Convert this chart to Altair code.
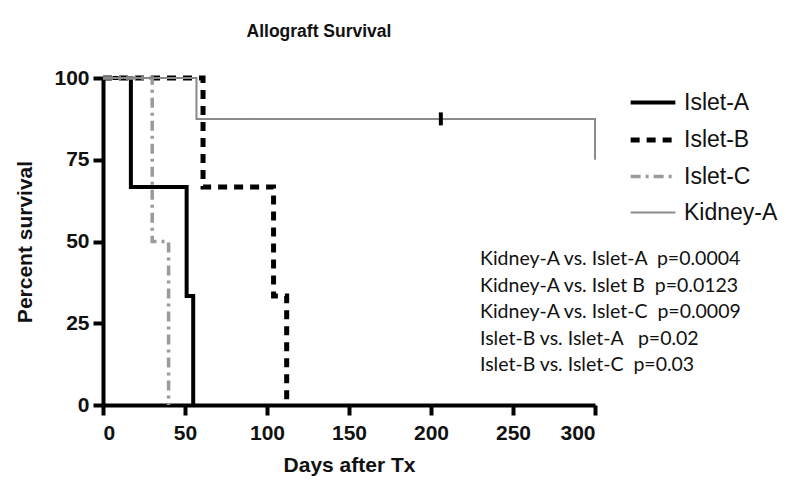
import altair as alt
import pandas as pd

# Kaplan-Meier step data (day, percent survival)
islet_a_days = [0, 17, 51, 55]
islet_a_surv = [100, 66.7, 33.3, 0]
islet_b_days = [0, 61, 104, 112]
islet_b_surv = [100, 66.7, 33.3, 0]
islet_c_days = [0, 30, 40]
islet_c_surv = [100, 50, 0]
kidney_a_days = [0, 57, 300]
kidney_a_surv = [100, 87.5, 75]
censor_days = [206]
censor_surv = [87.5]

groups = ["Islet-A", "Islet-B", "Islet-C", "Kidney-A"]
colors = ["#000000", "#000000", "#9a9a9a", "#8a8a8a"]
dashes = [[1, 0], [9, 7], [10, 5, 3, 5], [1, 0]]
widths = [4, 5, 3.5, 2]

NB = "\u00a0"
pvals = [
    "Kidney-A vs. Islet-A" + NB * 2 + "p=0.0004",
    "Kidney-A vs. Islet B" + NB * 2 + "p=0.0123",
    "Kidney-A vs. Islet-C" + NB * 2 + "p=0.0009",
    "Islet-B vs. Islet-A" + NB * 3 + "p=0.02",
    "Islet-B vs. Islet-C" + NB * 2 + "p=0.03",
]

rows = []
for g, ds, ss in [("Islet-A", islet_a_days, islet_a_surv),
                  ("Islet-B", islet_b_days, islet_b_surv),
                  ("Islet-C", islet_c_days, islet_c_surv),
                  ("Kidney-A", kidney_a_days, kidney_a_surv)]:
    for d, s in zip(ds, ss):
        rows.append({"group": g, "day": d, "surv": s})
df = pd.DataFrame(rows)
cens = pd.DataFrame({"day": censor_days, "surv": censor_surv})

xs = alt.Scale(domain=[0, 300], nice=False)
ys = alt.Scale(domain=[0, 100], nice=False)

legend = alt.Legend(
    title=None, orient="none", legendX=525, legendY=0,
    symbolType="stroke", symbolSize=2000, labelFontSize=23,
    labelFont="Liberation Sans", labelColor="#111", rowPadding=-9,
    labelOffset=6,
)

lines = alt.Chart(df).mark_line(interpolate="step-after").encode(
    x=alt.X("day:Q", scale=xs, title="Days after Tx",
            axis=alt.Axis(values=[0, 50, 100, 150, 200, 250, 300], labelPadding=7, titlePadding=11)),
    y=alt.Y("surv:Q", scale=ys, title="Percent survival",
            axis=alt.Axis(values=[0, 25, 50, 75, 100], titlePadding=18)),
    color=alt.Color("group:N", scale=alt.Scale(domain=groups, range=colors), legend=legend),
    strokeDash=alt.StrokeDash("group:N", scale=alt.Scale(domain=groups, range=dashes), legend=legend),
    strokeWidth=alt.StrokeWidth("group:N", scale=alt.Scale(type="ordinal", domain=groups, range=widths), legend=legend),
    order="day:Q",
)

ticks = alt.Chart(cens).mark_tick(orient="vertical", color="black", thickness=4, size=13, opacity=1).encode(
    x=alt.X("day:Q", scale=xs), y=alt.Y("surv:Q", scale=ys)
)

ptext = alt.Chart(pd.DataFrame({"t": [pvals]})).mark_text(
    align="left", baseline="top", font="Lato", fontSize=19.5, lineHeight=26.5, color="#111"
).encode(text="t", x=alt.value(377), y=alt.value(172))

chart = alt.layer(lines, ticks, ptext).properties(
    width=492, height=327,
    autosize=alt.AutoSizeParams(type="none"),
    padding={"left": 95, "top": 70, "right": 197, "bottom": 89},
    title=alt.Title("Allograft Survival", font="Liberation Sans", fontSize=17.5,
                    fontWeight="bold", offset=27, dx=-30, color="#111"),
).configure_view(stroke=None).configure_axis(
    domainColor="black", domainWidth=4, tickColor="black", tickWidth=4, tickSize=10,
    grid=False, labelFont="Liberation Sans", labelFontSize=21, labelFontWeight="bold",
    labelColor="#111", titleFont="Liberation Sans", titleFontSize=21, titleFontWeight="bold",
    titleColor="#111", labelPadding=4,
)

chart.save("out.html", embed_options={"renderer": "svg", "actions": False})
